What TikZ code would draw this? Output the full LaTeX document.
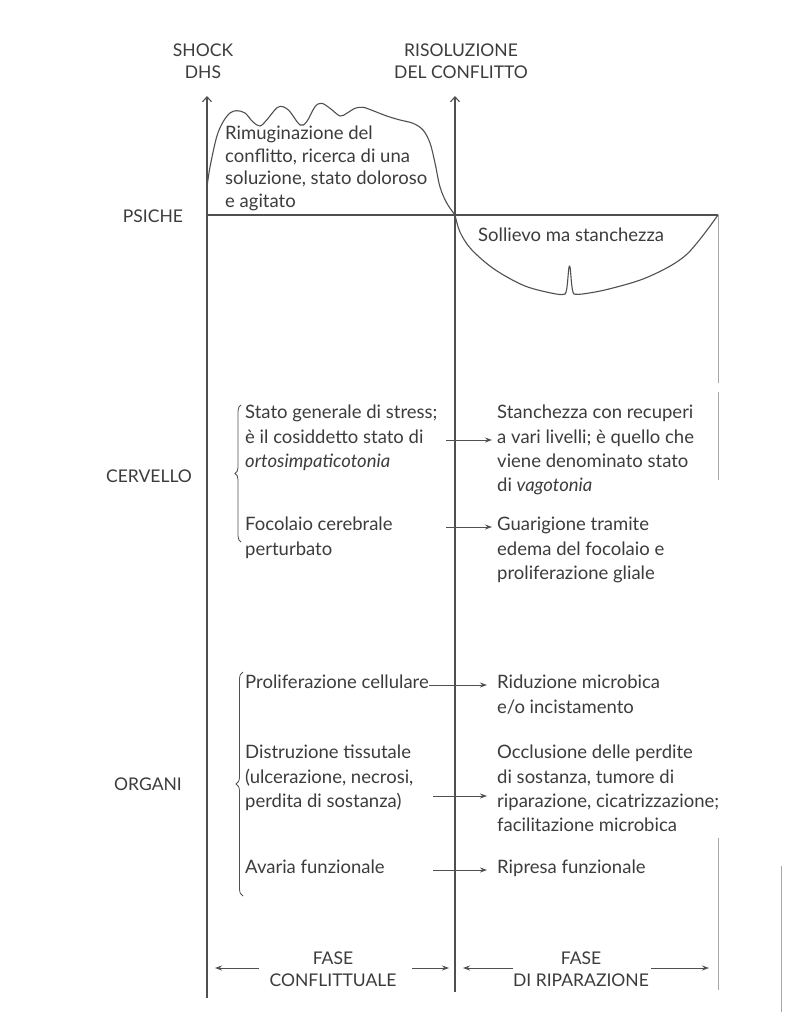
\documentclass[tikz,border=0pt]{standalone}
\usepackage{fontspec}
\setmainfont{Lato}
\usetikzlibrary{arrows.meta,decorations.pathreplacing}
\definecolor{ink}{HTML}{3C3C3C}
\definecolor{linec}{HTML}{505050}
\definecolor{faint}{HTML}{A8A8A8}
\tikzset{
  txt/.style={font=\fontsize{18.5}{24.3}\selectfont, text=ink, inner sep=0pt, align=left, anchor=north west},
  captxt/.style={font=\fontsize{17.5}{22}\selectfont, text=ink, inner sep=0pt, align=center},
  axisline/.style={draw=linec, line width=1.1pt},
  axisarrow/.style={axisline, -{Straight Barb[length=5pt,width=9pt]}},
  curveline/.style={draw=linec, line width=1.1pt, line cap=round, line join=round},
  smallarrow/.style={draw=linec, line width=0.9pt, -{Stealth[length=7pt,width=5pt]}},
  bracestyle/.style={draw=linec, line width=0.8pt, decorate},
}
\begin{document}
\begin{tikzpicture}[x=1pt,y=-1pt]
\useasboundingbox[fill=white] (0,0) rectangle (804,1024);

% axes
\coordinate (lb) at (207,998);
\coordinate (lt) at (207,96);
\coordinate (mb) at (455,992);
\coordinate (mt) at (455,96);
\coordinate (pl) at (207,215);
\coordinate (pr) at (718,215);
\draw[axisarrow] (lb) -- (lt);
\draw[axisarrow] (mb) -- (mt);
\draw[axisline] (pl) -- (pr);
% right boundary (faint)
\coordinate (r1) at (718,215);
\coordinate (r2) at (718,383);
\coordinate (r3) at (718,392);
\coordinate (r4) at (718,480);
\coordinate (r5) at (718,838);
\coordinate (r6) at (718,990);
\draw[draw=faint, line width=1pt] (r1) -- (r2);
\draw[draw=faint, line width=0.8pt] (r3) -- (r4);
\draw[draw=faint, line width=0.8pt] (r5) -- (r6);
\coordinate (s1) at (781,866);
\coordinate (s2) at (781,1012);
\draw[draw=faint, line width=0.8pt] (s1) -- (s2);

% axis labels
\node[captxt] (shock) at (203,61) {SHOCK\\DHS};
\node[captxt] (risol) at (461,61) {RISOLUZIONE\\DEL CONFLITTO};
\node[captxt] (psiche) at (153,216) {PSICHE};
\node[captxt] (cervello) at (149,476) {CERVELLO};
\node[captxt] (organi) at (148,784) {ORGANI};

% psyche curve (upper)
\draw[curveline] plot[smooth, tension=0.55] coordinates {
 (207,187) (210,167) (216.7,136.7) (223,122) (230,113) (236.7,110.7)
 (245,113) (253,122) (260,126) (266.7,120) (276.7,108) (283,106.7)
 (290,111.7) (300,125) (306.7,121.7) (315,106.7) (321.7,103.3) (330,108.3)
 (340,116) (346.7,113.3) (355,108.3) (363,107.3) (373,110.7) (386.7,116)
 (400,120) (413,123.3) (423,130) (430,143) (435,163) (440,187)
 (446.7,203) (455,215)};
% psyche curve (lower)
\draw[curveline] plot[smooth, tension=0.55] coordinates {
 (455,215) (460,232) (471,249) (494,269) (525,286) (556,294) (565,294)};
\draw[curveline] (565,294) .. controls (568,292) and (568,266) .. (569.5,266)
  .. controls (571,266) and (571,292) .. (574,294);
\draw[curveline] plot[smooth, tension=0.55] coordinates {
 (574,294) (582.6,294) (609,289) (648,277) (686,255) (718,215)};

\node[txt, font=\fontsize{18.5}{22.5}\selectfont] (rimug) at (225,126)
 {Rimuginazione del\\conflitto, ricerca di una\\soluzione, stato doloroso\\e agitato};
\node[txt] (sollievo) at (478,228) {Sollievo ma stanchezza};

% cervello
\node[txt] (stress) at (245,405) {Stato generale di stress;\\è il cosiddetto stato di\\\textit{ortosimpaticotonia}};
\node[txt] (stanch) at (497,405) {Stanchezza con recuperi\\a vari livelli; è quello che\\viene denominato stato\\di \textit{vagotonia}};
\node[txt] (focol) at (245,517) {Focolaio cerebrale\\perturbato};
\node[txt] (guarig) at (497,517) {Guarigione tramite\\edema del focolaio e\\proliferazione gliale};
\coordinate (a1s) at (446,440);
\coordinate (a1e) at (492,440);
\coordinate (a2s) at (446,527);
\coordinate (a2e) at (492,527);
\draw[smallarrow] (a1s) -- (a1e);
\draw[smallarrow] (a2s) -- (a2e);
\coordinate (b1t) at (241,405);
\coordinate (b1b) at (241,542);
\draw[bracestyle, decoration={brace, amplitude=6pt}] (b1b) -- (b1t);

% organi
\node[txt] (prolif) at (245,675) {Proliferazione cellulare};
\node[txt] (riduz) at (497,675) {Riduzione microbica\\e/o incistamento};
\node[txt] (distr) at (245,745) {Distruzione tissutale\\(ulcerazione, necrosi,\\perdita di sostanza)};
\node[txt] (occl) at (497,745) {Occlusione delle perdite\\di sostanza, tumore di\\riparazione, cicatrizzazione;\\facilitazione microbica};
\node[txt] (avaria) at (245,860) {Avaria funzionale};
\node[txt] (ripresa) at (497,860) {Ripresa funzionale};
\coordinate (a3e) at (487,685);
\coordinate (a4s) at (433,796);
\coordinate (a4e) at (487,796);
\coordinate (a5s) at (433,870);
\coordinate (a5e) at (487,870);
\draw[smallarrow] (prolif.east |- a3e) -- (a3e);
\draw[smallarrow] (a4s) -- (a4e);
\draw[smallarrow] (a5s) -- (a5e);
\coordinate (b2t) at (243,672);
\coordinate (b2b) at (243,896);
\draw[bracestyle, decoration={brace, amplitude=7pt}] (b2b) -- (b2t);

% phases
\node[captxt] (fase1) at (333,969) {FASE\\CONFLITTUALE};
\node[captxt] (fase2) at (581,969) {FASE\\DI RIPARAZIONE};
\coordinate (f1a) at (259,968);
\coordinate (f1b) at (215,968);
\coordinate (f1c) at (412,968);
\coordinate (f1d) at (449,968);
\coordinate (f2a) at (513,968);
\coordinate (f2b) at (463,968);
\coordinate (f2c) at (651,968);
\coordinate (f2d) at (709,968);
\draw[smallarrow] (f1a) -- (f1b);
\draw[smallarrow] (f1c) -- (f1d);
\draw[smallarrow] (f2a) -- (f2b);
\draw[smallarrow] (f2c) -- (f2d);
\end{tikzpicture}
\end{document}
